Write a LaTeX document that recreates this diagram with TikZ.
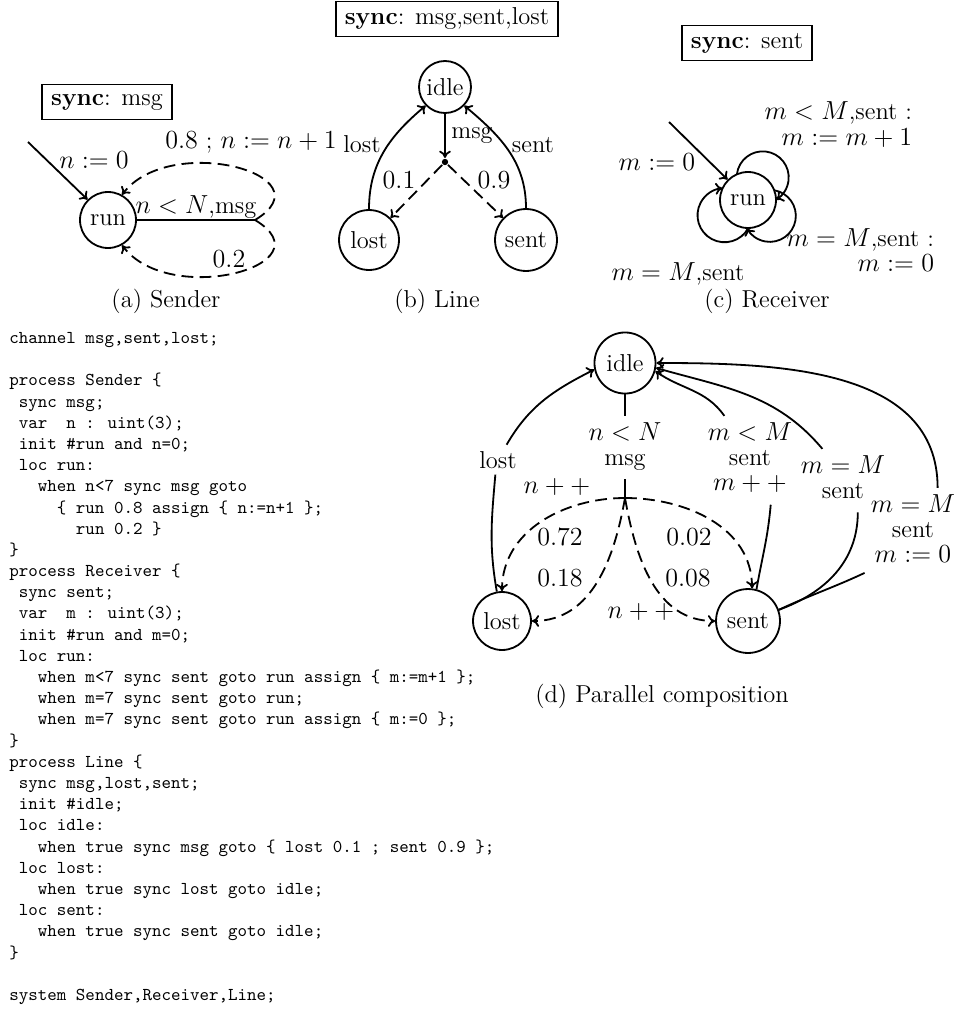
\documentclass[tikz,border=0pt]{standalone}
\usepackage{fontspec}
\usetikzlibrary{arrows.meta,calc}
\newcommand\dfont{\fontsize{13.5}{14}\selectfont}
\begin{document}
\begin{tikzpicture}[x=0.552pt,y=0.552pt, line width=1pt,
  st/.style={circle,draw,inner sep=0pt,font=\dfont},
  lab/.style={font=\dfont,inner sep=0pt,anchor=base},
  mlab/.style={font=\dfont,align=center,inner sep=3pt},
  syncbox/.style={draw,font=\dfont,minimum height=19.3pt,inner xsep=5pt,inner ysep=0pt},
  ar/.style={-{To[length=4pt,width=6.5pt]}},
  dsh/.style={dash pattern=on 6.5pt off 3.5pt},
  code/.style={font=\fontsize{10}{11.7}\selectfont\ttfamily,align=left,inner sep=0pt,anchor=north west}]
\useasboundingbox (0,0) rectangle (956,-1010);

% ---------------- (a) Sender
\node[syncbox] (sa) at (107,-102) {\textbf{sync}: msg};
\node[st,minimum size=30.9pt] (arun) at (108,-220) {run};
\coordinate (ainit) at (28,-142);
\coordinate (aj) at (255,-220);
\draw[ar] (ainit) -- (arun.135);
\draw (arun.east) -- (aj);
\draw[ar,dsh] (aj) .. controls (330,-175) and (170,-132) .. (arun.61);
\draw[ar,dsh] (aj) .. controls (330,-265) and (170,-308) .. (arun.-61);
\node[lab] (la1) at (94,-168) {$n:=0$};
\node[lab] (la2) at (251,-148) {$0.8$ ; $n:=n+1$};
\node[lab] (la3) at (196,-213) {$n<N$,msg};
\node[lab] (la4) at (229,-267) {$0.2$};
\node[lab] (capa) at (166,-307) {(a) Sender};

% ---------------- (b) Line
\node[syncbox] (sb) at (447,-19) {\textbf{sync}: msg,sent,lost};
\node[st,minimum size=28.7pt] (bidle) at (445,-87) {idle};
\node[st,minimum size=33.1pt] (blost) at (369,-240) {lost};
\node[st,minimum size=34.2pt] (bsent) at (526,-240) {sent};
\node[circle,fill,inner sep=0pt,minimum size=3.5pt] (bdot) at (445,-162) {};
\draw[ar] (bidle) -- (bdot);
\draw[ar,dsh] (bdot) -- (blost);
\draw[ar,dsh] (bdot) -- (bsent);
\draw[ar] (blost.90) to[out=90,in=220] (bidle.224);
\draw[ar] (bsent.90) to[out=90,in=-40] (bidle.-44);
\node[lab] (lb1) at (472,-138) {msg};
\node[lab] (lb2) at (362,-152) {lost};
\node[lab] (lb3) at (533,-152) {sent};
\node[lab] (lb4) at (399,-188) {$0.1$};
\node[lab] (lb5) at (494,-188) {$0.9$};
\node[lab] (capb) at (437,-307) {(b) Line};

% ---------------- (c) Receiver
\node[syncbox] (sc) at (747,-43) {\textbf{sync}: sent};
\node[st,minimum size=30.9pt] (crun) at (748,-200) {run};
\coordinate (cinit) at (669,-122);
\draw[ar] (cinit) -- (crun.135);
% three round self-loops (circular arcs outside the state)
\draw[ar] ($(crun.center)+(57:27)+(173.25:26)$) arc[start angle=173.25, end angle=-59.25, radius=26];
\draw[ar] ($(crun.center)+(-36:27)+(80.25:26)$) arc[start angle=80.25, end angle=-152.25, radius=26];
\draw[ar] ($(crun.center)+(213:28)+(331.8:27)$) arc[start angle=331.8, end angle=94.2, radius=27];
\node[lab] (lc1) at (657,-170) {$m:=0$};
\node[font=\fontsize{13.5}{12.7}\selectfont,align=right,inner sep=0pt,anchor=north east] (lc2) at (913,-100.9)
  {\strut$m<M$,sent :\\\strut$m:=m+1$};
\node[font=\fontsize{13.5}{13.8}\selectfont,align=right,inner sep=0pt,anchor=north east] (lc3) at (935,-227.5)
  {\strut$m=M$,sent :\\\strut$m:=0$};
\node[lab] (lc4) at (678,-280) {$m=M$,sent};
\node[lab] (capc) at (767,-307) {(c) Receiver};

% ---------------- (d) Parallel composition
\node[st,minimum size=33.7pt] (didle) at (625,-363) {idle};
\node[st,minimum size=32pt] (dlost) at (502,-621) {lost};
\node[st,minimum size=35.3pt] (dsent) at (748,-621) {sent};
\coordinate (dj) at (625,-498);
\node[mlab] (dl1) at (625,-447.6) {\strut$n<N$\\\strut msg};
\draw (didle) -- (dl1);
\draw (dl1) -- (dj);
\draw[ar,dsh] (dj) to[out=180,in=90] (dlost.north);
\draw[ar,dsh] (dj) to[out=0,in=90] (dsent.83);
\draw[ar,dsh] (dj) to[out=-100,in=0] (dlost.east);
\draw[ar,dsh] (dj) to[out=-80,in=180] (dsent.west);
\node[lab,inner sep=3pt] (dll) at (498,-468) {lost};
\draw (dlost.100) to[out=100,in=-95] (dll.-100);
\draw[ar] (dll.60) to[out=60,in=207] (didle.192);
\node[mlab] (dmm) at (750,-460.3) {\strut$m<M$\\\strut sent\\\strut$m++$};
\draw (dsent.75) to[out=80,in=-95] (dmm.-65);
\draw[ar] (dmm.120) to[out=125,in=-35] (didle.-15);
\node[mlab] (dmeq) at (843,-480.6) {\strut$m=M$\\\strut sent};
\draw (dsent.20) to[out=20,in=-90] (dmeq.-65);
\draw[ar] (dmeq.123) to[out=130,in=-16] (didle.-9);
\node[mlab] (dm0) at (913,-532.3) {\strut$m=M$\\\strut sent\\\strut$m:=0$};
\draw (dsent.20) to[out=25,in=-155] (dm0.-140);
\draw[ar] (dm0.61) to[out=90,in=0] (didle.0);
\node[lab] (ld1) at (557,-493) {$n++$};
\node[lab] (ld2) at (641,-618) {$n++$};
\node[lab] (ld3) at (560,-545) {$0.72$};
\node[lab] (ld4) at (689,-545) {$0.02$};
\node[lab] (ld5) at (560,-586) {$0.18$};
\node[lab] (ld6) at (688,-586) {$0.08$};
\node[lab] (capd) at (662,-702) {(d) Parallel composition};

% ---------------- code
\node[code] (code) at (8.5,-327.7) {%
\strut channel msg,sent,lost;\\
\strut\\
\strut process Sender \{\\
\strut\ sync msg;\\
\strut\ var\ \ n : uint(3);\\
\strut\ init \#run and n=0;\\
\strut\ loc run:\\
\strut\ \ \ when n<7 sync msg goto\\
\strut\ \ \ \ \ \{ run 0.8 assign \{ n:=n+1 \};\\
\strut\ \ \ \ \ \ \ run 0.2 \}\\
\strut\}\\
\strut process Receiver \{\\
\strut\ sync sent;\\
\strut\ var\ \ m : uint(3);\\
\strut\ init \#run and m=0;\\
\strut\ loc run:\\
\strut\ \ \ when m<7 sync sent goto run assign \{ m:=m+1 \};\\
\strut\ \ \ when m=7 sync sent goto run;\\
\strut\ \ \ when m=7 sync sent goto run assign \{ m:=0 \};\\
\strut\}\\
\strut process Line \{\\
\strut\ sync msg,lost,sent;\\
\strut\ init \#idle;\\
\strut\ loc idle:\\
\strut\ \ \ when true sync msg goto \{ lost 0.1 ; sent 0.9 \};\\
\strut\ loc lost:\\
\strut\ \ \ when true sync lost goto idle;\\
\strut\ loc sent:\\
\strut\ \ \ when true sync sent goto idle;\\
\strut\}\\
\strut\\
\strut system Sender,Receiver,Line;};
\end{tikzpicture}
\end{document}
